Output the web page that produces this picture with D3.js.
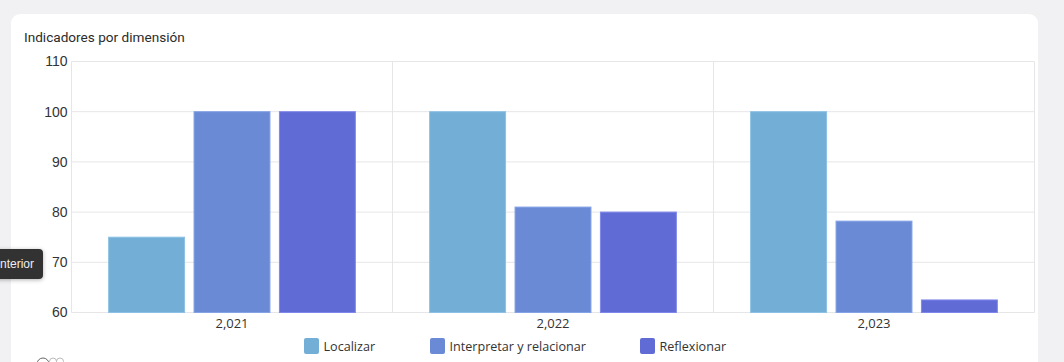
<!DOCTYPE html>
<html><head><meta charset="utf-8">
<script src="https://cdn.jsdelivr.net/npm/d3@7/dist/d3.min.js"></script>
<style>html,body{margin:0;padding:0;background:#f1f1f3;overflow:hidden}svg{display:block}text{font-family:"Open Sans","Noto Sans",sans-serif}</style>
</head><body><svg id="c" width="1064" height="362"></svg>
<script>
const years=["2,021","2,022","2,023"];
const seriesNames=["Localizar","Interpretar y relacionar","Reflexionar"];
const localizar=[75,100,100];
const interpretar=[100,81,78.2];
const reflexionar=[100,80,62.5];
const colors=["#72aed6","#6a8ad5","#616bd5"];
const strokes=["#8cc0e4","#84a2e6","#7f88ea"];
const yTicks=[60,70,80,90,100,110];
const title="Indicadores por dimensión";
const tooltipText="nterior";

const svg=d3.select("#c");
const L=71.5,R=1034.5,T=61.5,B=312.5;
const defs=svg.append("defs");
const f=defs.append("filter").attr("id","sh").attr("x","-20%").attr("y","-30%").attr("width","140%").attr("height","170%");
f.append("feDropShadow").attr("dx",0).attr("dy",1).attr("stdDeviation",2).attr("flood-color","#000").attr("flood-opacity",0.3);

svg.append("rect").attr("x",11).attr("y",14).attr("width",1027).attr("height",380).attr("rx",9).attr("fill","#fff");
svg.append("text").attr("x",24).attr("y",42).attr("font-size",13.6).attr("fill","#2b2b2b").style("font-family","Roboto,sans-serif").text(title);

const x=d3.scaleBand().domain(years).range([L,R]);
const inner=d3.scaleBand().domain(seriesNames).range([0,x.bandwidth()]).paddingInner(0.111).paddingOuter(0.435);
const y=d3.scaleLinear().domain([60,110]).range([B,T]);
const grid="#e6e6e8";

const gy=svg.append("g").attr("transform",`translate(${L},0)`).call(d3.axisLeft(y).tickValues(yTicks).tickSize(0).tickPadding(4));
gy.select(".domain").remove();
gy.selectAll("text").attr("font-size",14).attr("fill","#333").style("font-family",'"Liberation Sans",sans-serif');
svg.append("g").selectAll("line").data(yTicks).join("line").attr("x1",L).attr("x2",R).attr("y1",d=>y(d)).attr("y2",d=>y(d)).attr("stroke",grid);
svg.append("g").selectAll("line").data([L,L+x.bandwidth(),L+2*x.bandwidth(),R]).join("line").attr("x1",d=>d).attr("x2",d=>d).attr("y1",T).attr("y2",B).attr("stroke",grid);

const vals=[localizar,interpretar,reflexionar];
seriesNames.forEach((s,i)=>{
  svg.append("g").selectAll("rect").data(years).join("rect")
   .attr("x",d=>x(d)+inner(s)).attr("width",inner.bandwidth())
   .attr("y",(d,j)=>y(vals[i][j])).attr("height",(d,j)=>B-y(vals[i][j]))
   .attr("fill",colors[i]).attr("stroke",strokes[i]).attr("stroke-width",1);
});

const gx=svg.append("g").attr("transform",`translate(0,${B})`).call(d3.axisBottom(x).tickSize(0).tickPadding(6));
gx.select(".domain").remove();
gx.selectAll("text").attr("font-size",13).attr("fill","#333");

const legX=[304,430,640];
seriesNames.forEach((s,i)=>{
  svg.append("rect").attr("x",legX[i]).attr("y",338).attr("width",15).attr("height",16).attr("rx",2).attr("fill",colors[i]);
  svg.append("text").attr("x",legX[i]+19.5).attr("y",351).attr("font-size",12.6).attr("fill","#333").text(s);
});

svg.append("rect").attr("x",-20).attr("y",249).attr("width",63).attr("height",30).attr("rx",4).attr("fill","#333").attr("filter","url(#sh)");
svg.append("text").attr("x",0).attr("y",268).attr("font-size",12).attr("fill","#eee").style("font-family",'"Liberation Sans",sans-serif').text(tooltipText);

[[43,6,"#666"],[53,3.5,"#bbb"],[60,3.5,"#bbb"]].forEach(([cx,r,c])=>{
  svg.append("circle").attr("cx",cx).attr("cy",358+r).attr("r",r).attr("fill","none").attr("stroke",c).attr("stroke-width",1);
});
</script></body></html>
